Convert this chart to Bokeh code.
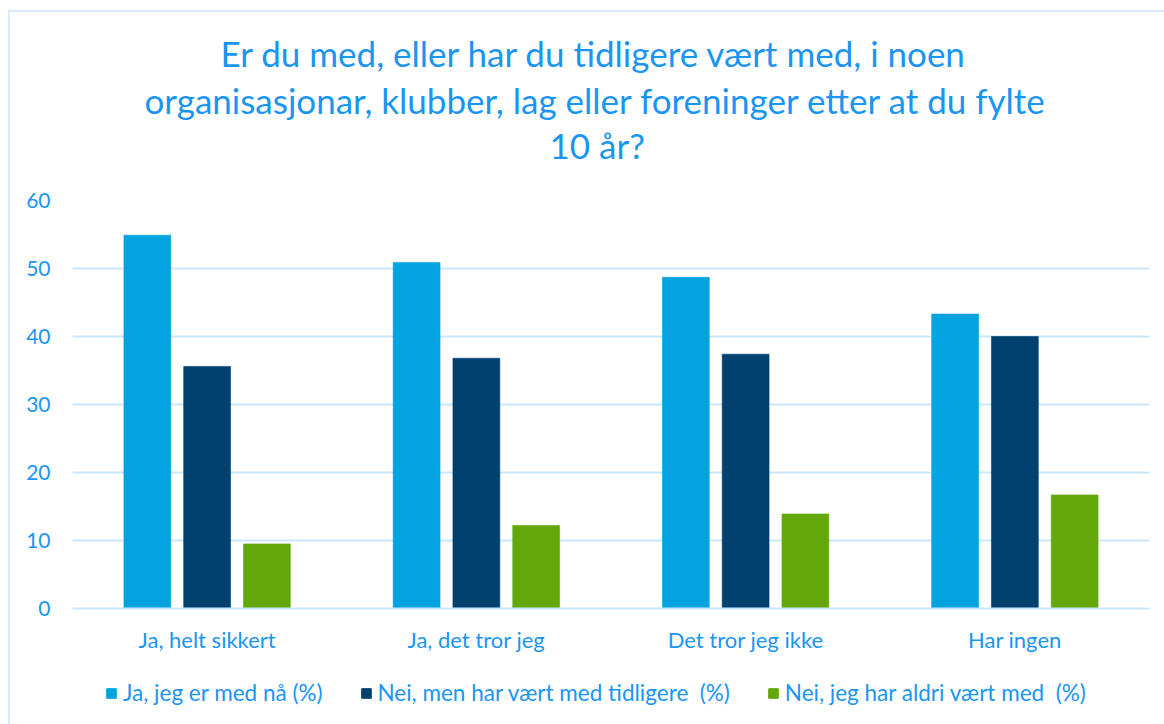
from bokeh.plotting import figure
from bokeh.models import FactorRange, Range1d, Title, Legend, LegendItem, SingleIntervalTicker, ColumnDataSource
from bokeh.layouts import column
from bokeh.transform import dodge
from bokeh.embed import file_html
from bokeh.resources import INLINE

categories = ["Ja, helt sikkert", "Ja, det tror jeg", "Det tror jeg ikke", "Har ingen"]
series_names = ["Ja, jeg er med nå (%)", "Nei, men har vært med tidligere  (%)", "Nei, jeg har aldri vært med  (%)"]
med_naa = [54.9, 50.9, 48.7, 43.3]
med_tidligere = [35.6, 36.8, 37.4, 40.0]
aldri_med = [9.5, 12.2, 13.9, 16.7]
title_lines = ["Er du med, eller har du  tidligere vært med, i noen",
               "organisasjonar, klubber, lag eller foreninger etter at du fylte",
               "10 år?"]

colors = ["#02a3e0", "#004170", "#64a70b"]
text_color = "#1b95f2"
grid_color = "#c9e7fb"
FONT = "Lato"
W = 1154

src = ColumnDataSource(dict(cat=categories, a=med_naa, b=med_tidligere, c=aldri_med))

p = figure(x_range=FactorRange(*categories, range_padding=0), y_range=Range1d(0, 60),
           width=W, height=646, output_backend="svg", toolbar_location=None,
           min_border_left=62, min_border_right=15, min_border_top=188, min_border_bottom=50)
p.outline_line_color = None
p.background_fill_color = "white"
p.border_fill_color = "white"

for key, off, col in zip(["a", "b", "c"], [-0.222, 0.0, 0.222], colors):
    p.vbar(x=dodge("cat", off, range=p.x_range), top=key, width=0.174, source=src,
           fill_color=col, line_color=col, line_alpha=0.6)

p.yaxis.ticker = SingleIntervalTicker(interval=10)
p.yaxis.axis_line_color = None
p.yaxis.major_tick_line_color = None
p.yaxis.minor_tick_line_color = None
p.yaxis.major_label_text_color = text_color
p.yaxis.major_label_text_font = FONT
p.yaxis.major_label_text_font_size = "21px"
p.yaxis.major_label_standoff = 16

p.xaxis.axis_line_color = grid_color
p.xaxis.axis_line_width = 2
p.xaxis.major_tick_line_color = None
p.xaxis.minor_tick_line_color = None
p.xaxis.major_label_text_color = text_color
p.xaxis.major_label_text_font = FONT
p.xaxis.major_label_text_font_size = "22px"
p.xaxis.major_label_standoff = 11

p.xgrid.grid_line_color = None
p.ygrid.grid_line_color = grid_color
p.ygrid.grid_line_width = 2

p.add_layout(Title(text=" ", text_font_size="1px", standoff=32), "above")
for line, so, off in zip(reversed(title_lines), [0, 2, 4], [477, 72, 148]):
    p.add_layout(Title(text=line, align="left", offset=off, text_font=FONT, text_font_size="35px",
                       text_color=text_color, text_font_style="normal", standoff=so), "above")

# legend strip (bars drawn outside its visible y range; only the legend shows)
lg = figure(x_range=FactorRange(*categories, range_padding=0), y_range=Range1d(100, 101),
            x_axis_type=None, y_axis_type=None, width=W, height=66,
            output_backend="svg", toolbar_location=None, min_border=0)
lg.grid.visible = False
lg.outline_line_color = None
rs = [lg.vbar(x=dodge("cat", off, range=lg.x_range), top=key, width=0.174, source=src,
              fill_color=c, line_color=c)
      for key, off, c in zip(["a", "b", "c"], [-0.222, 0.0, 0.222], colors)]
legend = Legend(items=[LegendItem(label=n, renderers=[r]) for n, r in zip(series_names, rs)],
                orientation="horizontal", location=(33, 18),
                label_text_font=FONT, label_text_font_size="22.5px", label_text_color=text_color,
                glyph_width=12, glyph_height=12, label_standoff=6, spacing=37,
                border_line_color=None, background_fill_alpha=0, padding=0, margin=0)
lg.add_layout(legend, "center")

layout = column(p, lg, spacing=0)
layout.styles = {"border-left": "2px solid #d6eaf8", "border-top": "2px solid #d6eaf8",
                 "margin-left": "8px", "margin-top": "10px"}
open("out.html", "w").write(file_html(layout, INLINE))
